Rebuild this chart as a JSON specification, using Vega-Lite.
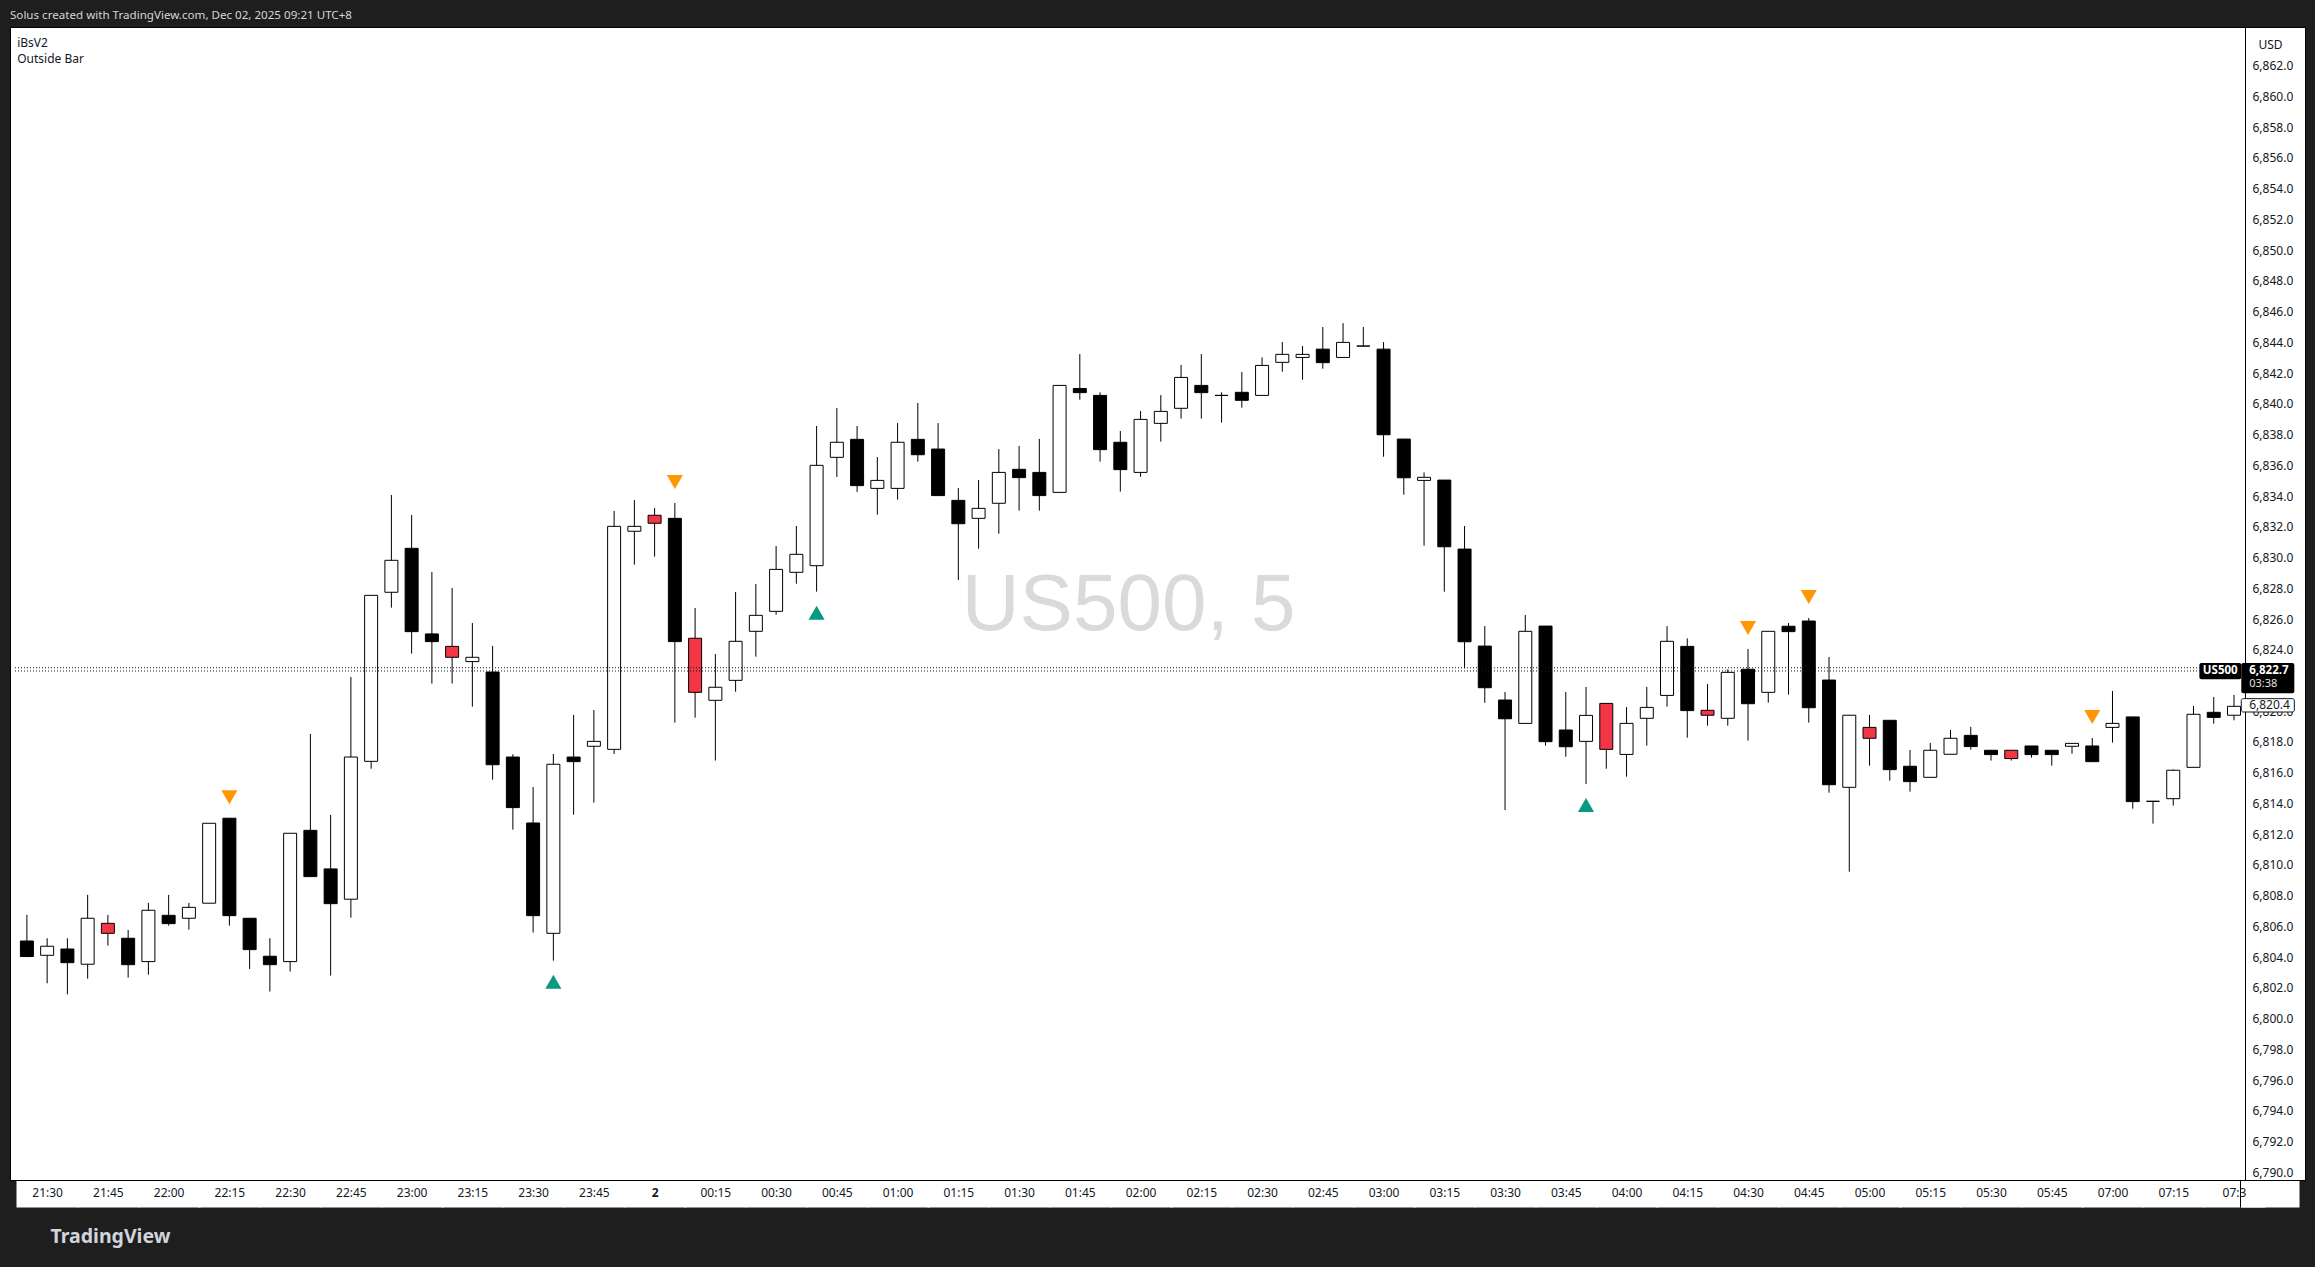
{
  "$schema": "https://vega.github.io/schema/vega-lite/v6.json",
  "width": 2295,
  "height": 1153,
  "autosize": {"type": "none"},
  "padding": {"left": 10, "top": 27, "right": 10, "bottom": 87},
  "background": "#1e1e1e",
  "config": {
    "view": {"fill": "#ffffff", "stroke": "#000000", "strokeWidth": 1},
    "font": "Noto Sans"
  },
  "title": {
    "text": "Solus created with TradingView.com, Dec 02, 2025 09:21 UTC+8",
    "subtitle": ["\u200b\u2002\u200aiBsV2", "\u200b\u2002\u200aOutside Bar"],
    "anchor": "start",
    "frame": "group",
    "orient": "top",
    "offset": -38,
    "font": "Noto Sans",
    "fontSize": 11.6,
    "fontWeight": "normal",
    "color": "#d6d6d6",
    "subtitleFont": "Noto Sans",
    "subtitleFontSize": 12,
    "subtitleColor": "#131722",
    "subtitleLineHeight": 16,
    "subtitlePadding": 16
  },
  "datasets": {
    "candles": [
      {"i":0,"t":"21:25","o":6805.05,"h":6806.75,"l":6804.0,"c":6804.04,"k":"down"},
      {"i":1,"t":"21:30","o":6804.12,"h":6805.23,"l":6802.3,"c":6804.71,"k":"up"},
      {"i":2,"t":"21:35","o":6804.53,"h":6805.23,"l":6801.58,"c":6803.64,"k":"down"},
      {"i":3,"t":"21:40","o":6803.54,"h":6808.05,"l":6802.6,"c":6806.53,"k":"up"},
      {"i":4,"t":"21:45","o":6806.2,"h":6806.75,"l":6804.75,"c":6805.55,"k":"red"},
      {"i":5,"t":"21:50","o":6805.23,"h":6805.77,"l":6802.67,"c":6803.51,"k":"down"},
      {"i":6,"t":"21:55","o":6803.71,"h":6807.53,"l":6802.86,"c":6807.05,"k":"up"},
      {"i":7,"t":"22:00","o":6806.72,"h":6808.05,"l":6806.05,"c":6806.18,"k":"down"},
      {"i":8,"t":"22:05","o":6806.53,"h":6807.53,"l":6805.79,"c":6807.24,"k":"up"},
      {"i":9,"t":"22:10","o":6807.51,"h":6812.71,"l":6807.51,"c":6812.71,"k":"up"},
      {"i":10,"t":"22:15","o":6813.04,"h":6813.04,"l":6806.05,"c":6806.7,"k":"down","sig":"dn"},
      {"i":11,"t":"22:20","o":6806.53,"h":6806.53,"l":6803.23,"c":6804.49,"k":"down"},
      {"i":12,"t":"22:25","o":6804.06,"h":6805.23,"l":6801.76,"c":6803.51,"k":"down"},
      {"i":13,"t":"22:30","o":6803.71,"h":6812.06,"l":6803.06,"c":6812.06,"k":"up"},
      {"i":14,"t":"22:35","o":6812.25,"h":6818.52,"l":6809.24,"c":6809.24,"k":"down"},
      {"i":15,"t":"22:40","o":6809.74,"h":6813.25,"l":6802.8,"c":6807.48,"k":"down"},
      {"i":16,"t":"22:45","o":6807.77,"h":6822.23,"l":6806.57,"c":6817.02,"k":"up"},
      {"i":17,"t":"22:50","o":6816.74,"h":6827.54,"l":6816.26,"c":6827.54,"k":"up"},
      {"i":18,"t":"22:55","o":6827.74,"h":6834.07,"l":6826.74,"c":6829.82,"k":"up"},
      {"i":19,"t":"23:00","o":6830.6,"h":6832.77,"l":6823.75,"c":6825.18,"k":"down"},
      {"i":20,"t":"23:05","o":6825.03,"h":6829.06,"l":6821.8,"c":6824.53,"k":"down"},
      {"i":21,"t":"23:10","o":6824.22,"h":6828.02,"l":6821.8,"c":6823.51,"k":"red"},
      {"i":22,"t":"23:15","o":6823.23,"h":6825.74,"l":6820.3,"c":6823.51,"k":"up"},
      {"i":23,"t":"23:20","o":6822.55,"h":6824.25,"l":6815.55,"c":6816.52,"k":"down"},
      {"i":24,"t":"23:25","o":6817.02,"h":6817.2,"l":6812.3,"c":6813.73,"k":"down"},
      {"i":25,"t":"23:30","o":6812.73,"h":6815.07,"l":6805.6,"c":6806.7,"k":"down"},
      {"i":26,"t":"23:35","o":6805.55,"h":6817.22,"l":6803.77,"c":6816.55,"k":"up","sig":"up"},
      {"i":27,"t":"23:40","o":6817.02,"h":6819.76,"l":6813.27,"c":6816.72,"k":"down"},
      {"i":28,"t":"23:45","o":6817.72,"h":6820.08,"l":6814.05,"c":6818.04,"k":"up"},
      {"i":29,"t":"23:50","o":6817.52,"h":6833.03,"l":6817.22,"c":6832.03,"k":"up"},
      {"i":30,"t":"23:55","o":6831.71,"h":6833.74,"l":6829.54,"c":6832.03,"k":"up"},
      {"i":31,"t":"00:00","o":6832.75,"h":6833.22,"l":6830.06,"c":6832.23,"k":"red"},
      {"i":32,"t":"00:05","o":6832.55,"h":6833.55,"l":6819.26,"c":6824.53,"k":"down","sig":"dn"},
      {"i":33,"t":"00:10","o":6824.75,"h":6826.72,"l":6819.58,"c":6821.23,"k":"red"},
      {"i":34,"t":"00:15","o":6820.71,"h":6823.72,"l":6816.79,"c":6821.56,"k":"up"},
      {"i":35,"t":"00:20","o":6822.01,"h":6827.76,"l":6821.27,"c":6824.55,"k":"up"},
      {"i":36,"t":"00:25","o":6825.2,"h":6828.28,"l":6823.55,"c":6826.24,"k":"up"},
      {"i":37,"t":"00:30","o":6826.5,"h":6830.75,"l":6826.28,"c":6829.23,"k":"up"},
      {"i":38,"t":"00:35","o":6829.04,"h":6832.05,"l":6828.3,"c":6830.21,"k":"up"},
      {"i":39,"t":"00:40","o":6829.47,"h":6838.56,"l":6827.78,"c":6836.0,"k":"up","sig":"up"},
      {"i":40,"t":"00:45","o":6836.52,"h":6839.73,"l":6835.24,"c":6837.5,"k":"up"},
      {"i":41,"t":"00:50","o":6837.69,"h":6838.56,"l":6834.27,"c":6834.68,"k":"down"},
      {"i":42,"t":"00:55","o":6834.5,"h":6836.54,"l":6832.79,"c":6835.02,"k":"up"},
      {"i":43,"t":"01:00","o":6834.5,"h":6838.75,"l":6833.77,"c":6837.5,"k":"up"},
      {"i":44,"t":"01:05","o":6837.69,"h":6840.06,"l":6836.24,"c":6836.69,"k":"down"},
      {"i":45,"t":"01:10","o":6837.06,"h":6838.75,"l":6834.03,"c":6834.03,"k":"down"},
      {"i":46,"t":"01:15","o":6833.72,"h":6834.53,"l":6828.54,"c":6832.2,"k":"down"},
      {"i":47,"t":"01:20","o":6832.55,"h":6835.05,"l":6830.58,"c":6833.2,"k":"up"},
      {"i":48,"t":"01:25","o":6833.53,"h":6837.06,"l":6831.55,"c":6835.54,"k":"up"},
      {"i":49,"t":"01:30","o":6835.74,"h":6837.26,"l":6833.05,"c":6835.2,"k":"down"},
      {"i":50,"t":"01:35","o":6835.54,"h":6837.72,"l":6833.05,"c":6834.03,"k":"down"},
      {"i":51,"t":"01:40","o":6834.24,"h":6841.2,"l":6834.24,"c":6841.2,"k":"up"},
      {"i":52,"t":"01:45","o":6841.0,"h":6843.24,"l":6840.27,"c":6840.73,"k":"down"},
      {"i":53,"t":"01:50","o":6840.55,"h":6840.75,"l":6836.24,"c":6837.02,"k":"down"},
      {"i":54,"t":"01:55","o":6837.5,"h":6838.23,"l":6834.29,"c":6835.72,"k":"down"},
      {"i":55,"t":"02:00","o":6835.54,"h":6839.53,"l":6835.26,"c":6838.99,"k":"up"},
      {"i":56,"t":"02:05","o":6838.73,"h":6840.57,"l":6837.54,"c":6839.51,"k":"up"},
      {"i":57,"t":"02:10","o":6839.71,"h":6842.53,"l":6839.04,"c":6841.72,"k":"up"},
      {"i":58,"t":"02:15","o":6841.2,"h":6843.24,"l":6839.04,"c":6840.73,"k":"down"},
      {"i":59,"t":"02:20","o":6840.55,"h":6840.75,"l":6838.78,"c":6840.55,"k":"down"},
      {"i":60,"t":"02:25","o":6840.75,"h":6842.07,"l":6839.75,"c":6840.23,"k":"down"},
      {"i":61,"t":"02:30","o":6840.55,"h":6843.02,"l":6840.55,"c":6842.5,"k":"up"},
      {"i":62,"t":"02:35","o":6842.7,"h":6844.02,"l":6842.09,"c":6843.22,"k":"up"},
      {"i":63,"t":"02:40","o":6843.02,"h":6843.76,"l":6841.57,"c":6843.22,"k":"up"},
      {"i":64,"t":"02:45","o":6843.56,"h":6845.0,"l":6842.29,"c":6842.68,"k":"down"},
      {"i":65,"t":"02:50","o":6843.02,"h":6845.25,"l":6843.02,"c":6844.0,"k":"up"},
      {"i":66,"t":"02:55","o":6843.76,"h":6845.0,"l":6843.76,"c":6843.76,"k":"down"},
      {"i":67,"t":"03:00","o":6843.56,"h":6844.02,"l":6836.56,"c":6837.99,"k":"down"},
      {"i":68,"t":"03:05","o":6837.71,"h":6837.71,"l":6834.09,"c":6835.19,"k":"down"},
      {"i":69,"t":"03:10","o":6835.02,"h":6835.54,"l":6830.77,"c":6835.22,"k":"up"},
      {"i":70,"t":"03:15","o":6835.04,"h":6835.04,"l":6827.78,"c":6830.7,"k":"down"},
      {"i":71,"t":"03:20","o":6830.55,"h":6832.05,"l":6822.79,"c":6824.52,"k":"down"},
      {"i":72,"t":"03:25","o":6824.24,"h":6825.54,"l":6820.55,"c":6821.53,"k":"down"},
      {"i":73,"t":"03:30","o":6820.73,"h":6821.25,"l":6813.57,"c":6819.51,"k":"down"},
      {"i":74,"t":"03:35","o":6819.21,"h":6826.26,"l":6819.21,"c":6825.2,"k":"up"},
      {"i":75,"t":"03:40","o":6825.54,"h":6825.54,"l":6817.76,"c":6818.02,"k":"down"},
      {"i":76,"t":"03:45","o":6818.78,"h":6821.25,"l":6817.04,"c":6817.69,"k":"down"},
      {"i":77,"t":"03:50","o":6818.04,"h":6821.58,"l":6815.26,"c":6819.73,"k":"up","sig":"up"},
      {"i":78,"t":"03:55","o":6820.51,"h":6820.51,"l":6816.26,"c":6817.52,"k":"red"},
      {"i":79,"t":"04:00","o":6817.19,"h":6820.27,"l":6815.74,"c":6819.21,"k":"up"},
      {"i":80,"t":"04:05","o":6819.54,"h":6821.58,"l":6817.76,"c":6820.25,"k":"up"},
      {"i":81,"t":"04:10","o":6821.03,"h":6825.54,"l":6820.3,"c":6824.55,"k":"up"},
      {"i":82,"t":"04:15","o":6824.22,"h":6824.74,"l":6818.28,"c":6820.04,"k":"down"},
      {"i":83,"t":"04:20","o":6820.06,"h":6821.77,"l":6819.06,"c":6819.74,"k":"red"},
      {"i":84,"t":"04:25","o":6819.54,"h":6822.73,"l":6819.06,"c":6822.53,"k":"up"},
      {"i":85,"t":"04:30","o":6822.73,"h":6824.05,"l":6818.09,"c":6820.49,"k":"down","sig":"dn"},
      {"i":86,"t":"04:35","o":6821.23,"h":6825.2,"l":6820.56,"c":6825.2,"k":"up"},
      {"i":87,"t":"04:40","o":6825.53,"h":6825.74,"l":6821.08,"c":6825.18,"k":"down"},
      {"i":88,"t":"04:45","o":6825.87,"h":6826.07,"l":6819.26,"c":6820.23,"k":"down","sig":"dn"},
      {"i":89,"t":"04:50","o":6822.03,"h":6823.53,"l":6814.7,"c":6815.22,"k":"down"},
      {"i":90,"t":"04:55","o":6815.05,"h":6819.74,"l":6809.56,"c":6819.74,"k":"up"},
      {"i":91,"t":"05:00","o":6818.95,"h":6819.76,"l":6816.46,"c":6818.24,"k":"red"},
      {"i":92,"t":"05:05","o":6819.41,"h":6819.41,"l":6815.48,"c":6816.2,"k":"down"},
      {"i":93,"t":"05:10","o":6816.42,"h":6817.48,"l":6814.77,"c":6815.42,"k":"down"},
      {"i":94,"t":"05:15","o":6815.7,"h":6817.94,"l":6815.7,"c":6817.46,"k":"up"},
      {"i":95,"t":"05:20","o":6817.2,"h":6818.78,"l":6817.2,"c":6818.24,"k":"up"},
      {"i":96,"t":"05:25","o":6818.43,"h":6818.98,"l":6817.5,"c":6817.7,"k":"down"},
      {"i":97,"t":"05:30","o":6817.46,"h":6817.46,"l":6816.79,"c":6817.18,"k":"down"},
      {"i":98,"t":"05:35","o":6817.46,"h":6817.46,"l":6816.79,"c":6816.92,"k":"red"},
      {"i":99,"t":"05:40","o":6817.74,"h":6817.74,"l":6816.98,"c":6817.18,"k":"down"},
      {"i":100,"t":"05:45","o":6817.46,"h":6817.46,"l":6816.46,"c":6817.18,"k":"down"},
      {"i":101,"t":"05:50","o":6817.72,"h":6817.91,"l":6817.24,"c":6817.91,"k":"up"},
      {"i":102,"t":"05:55","o":6817.74,"h":6818.26,"l":6816.72,"c":6816.72,"k":"down","sig":"dn"},
      {"i":103,"t":"07:00","o":6818.95,"h":6821.32,"l":6817.96,"c":6819.21,"k":"up"},
      {"i":104,"t":"07:05","o":6819.63,"h":6819.63,"l":6813.66,"c":6814.12,"k":"down"},
      {"i":105,"t":"07:10","o":6814.14,"h":6814.14,"l":6812.69,"c":6814.14,"k":"down"},
      {"i":106,"t":"07:15","o":6814.31,"h":6816.22,"l":6813.86,"c":6816.16,"k":"up"},
      {"i":107,"t":"07:20","o":6816.35,"h":6820.34,"l":6816.35,"c":6819.8,"k":"up"},
      {"i":108,"t":"07:25","o":6819.93,"h":6820.93,"l":6819.19,"c":6819.6,"k":"down"},
      {"i":109,"t":"07:30","o":6819.74,"h":6821.06,"l":6819.41,"c":6820.32,"k":"up"}
    ]
  },
  "layer": [
    {
      "data": {"values": [{"label": "US500, 5"}]},
      "mark": {"type": "text", "font": "Liberation Sans", "fontSize": 80, "color": "#d9dadc", "align": "center", "baseline": "alphabetic"},
      "encoding": {
        "x": {"datum": 54.41, "type": "quantitative"},
        "y": {"datum": 6825.3, "type": "quantitative"},
        "text": {"field": "label"}
      }
    },
    {
      "data": {"name": "candles"},
      "mark": {"type": "rule", "color": "#000000", "strokeWidth": 1},
      "encoding": {
        "x": {
          "field": "i", "type": "quantitative",
          "scale": {"domain": [-0.588, 112.26], "nice": false, "zero": false},
          "axis": {
            "values": [1,4,7,10,13,16,19,22,25,28,31,34,37,40,43,46,49,52,55,58,61,64,67,70,73,76,79,82,85,88,91,94,97,100,103,106,109,109.31,110.76],
            "tickCount": 200,
            "labelExpr": "datum.value > 109.2 ? '' : ['21:30','21:45','22:00','22:15','22:30','22:45','23:00','23:15','23:30','23:45','2','00:15','00:30','00:45','01:00','01:15','01:30','01:45','02:00','02:15','02:30','02:45','03:00','03:15','03:30','03:45','04:00','04:15','04:30','04:45','05:00','05:15','05:30','05:45','07:00','07:15','07:3'][round((datum.value-1)/3)]",
            "ticks": true,
            "tickSize": 27,
            "tickCap": "butt",
            "tickColor": {"condition": {"test": "datum.value > 109.2 && datum.value < 109.4", "value": "#000000"}, "value": "#ffffff"},
            "tickWidth": {"condition": [{"test": "datum.value > 109.2 && datum.value < 109.4", "value": 1}, {"test": "datum.value > 110", "value": 58}], "value": 62},
            "grid": false,
            "domain": true,
            "domainColor": "#000000",
            "domainWidth": 1,
            "offset": 0,
            "labelPadding": -14.8,
            "labelBaseline": "middle",
            "labelFont": "Noto Sans",
            "labelFontSize": 12,
            "labelColor": "#131722",
            "labelFlush": false,
            "labelOverlap": false,
            "labelFontWeight": {"condition": {"test": "datum.value == 31", "value": "bold"}, "value": "normal"},
            "title": "TradingView",
            "titleX": 40,
            "titleY": 56.5,
            "titleAlign": "left",
            "titleAnchor": "start",
            "titleBaseline": "middle",
            "titleAngle": 0,
            "titleFont": "Noto Sans",
            "titleFontSize": 19.5,
            "titleFontWeight": "bold",
            "titleColor": "#d1d4dc",
            "zindex": 0
          }
        },
        "y": {
          "field": "l", "type": "quantitative",
          "scale": {"domain": [6789.5, 6864.52], "nice": false, "zero": false},
          "axis": {
            "orient": "right",
            "offset": -60,
            "values": [6790,6792,6794,6796,6798,6800,6802,6804,6806,6808,6810,6812,6814,6816,6818,6820,6822,6824,6826,6828,6830,6832,6834,6836,6838,6840,6842,6844,6846,6848,6850,6852,6854,6856,6858,6860,6862],
            "tickCount": 200,
            "format": ",.1f",
            "ticks": false,
            "grid": false,
            "domain": true,
            "domainColor": "#000000",
            "domainWidth": 1,
            "labelPadding": 7,
            "labelAlign": "left",
            "labelFont": "Noto Sans",
            "labelFontSize": 12,
            "labelColor": "#131722",
            "labelFlush": false,
            "labelOverlap": false,
            "title": "USD",
            "titleAngle": 0,
            "titleX": 13,
            "titleY": 17,
            "titleAlign": "left",
            "titleAnchor": "start",
            "titleBaseline": "middle",
            "titleFont": "Noto Sans",
            "titleFontSize": 12,
            "titleFontWeight": "normal",
            "titleColor": "#131722",
            "zindex": 0
          }
        },
        "y2": {"field": "h"}
      }
    },
    {
      "data": {"name": "candles"},
      "mark": {"type": "bar", "orient": "vertical", "width": 13, "stroke": "#000000", "strokeWidth": 1},
      "encoding": {
        "x": {"field": "i", "type": "quantitative"},
        "y": {"field": "o", "type": "quantitative"},
        "y2": {"field": "c"},
        "fill": {"field": "k", "type": "nominal", "scale": {"domain": ["up", "down", "red"], "range": ["#ffffff", "#000000", "#f23645"]}, "legend": null}
      }
    },
    {
      "data": {"values": [{"p": 6822.83}, {"p": 6822.62}]},
      "mark": {"type": "rule", "color": "#131722", "strokeWidth": 1, "strokeDash": [1, 2]},
      "encoding": {
        "x": {"datum": -0.588, "type": "quantitative"},
        "x2": {"datum": 107.29},
        "y": {"field": "p", "type": "quantitative"}
      }
    },
    {
      "data": {"name": "candles"},
      "transform": [{"filter": "datum.sig == 'dn'"}],
      "mark": {"type": "point", "shape": "triangle-down", "filled": true, "size": 260, "color": "#ff9800", "opacity": 1, "yOffset": -21},
      "encoding": {
        "x": {"field": "i", "type": "quantitative"},
        "y": {"field": "h", "type": "quantitative"}
      }
    },
    {
      "data": {"name": "candles"},
      "transform": [{"filter": "datum.sig == 'up'"}],
      "mark": {"type": "point", "shape": "triangle-up", "filled": true, "size": 260, "color": "#089981", "opacity": 1, "yOffset": 21},
      "encoding": {
        "x": {"field": "i", "type": "quantitative"},
        "y": {"field": "l", "type": "quantitative"}
      }
    },
    {
      "data": {"values": [{"sym": "US500"}]},
      "mark": {"type": "rect", "color": "#000000", "cornerRadius": 2},
      "encoding": {
        "x": {"datum": 107.29, "type": "quantitative"},
        "x2": {"datum": 109.36},
        "y": {"datum": 6823.14, "type": "quantitative"},
        "y2": {"datum": 6822.08}
      }
    },
    {
      "data": {"values": [{"last": 6822.7}]},
      "mark": {"type": "rect", "color": "#000000", "cornerRadius": 2},
      "encoding": {
        "x": {"datum": 109.36, "type": "quantitative"},
        "x2": {"datum": 111.98},
        "y": {"datum": 6823.14, "type": "quantitative"},
        "y2": {"datum": 6821.17}
      }
    },
    {
      "data": {"values": [{"ind": 6820.4}]},
      "mark": {"type": "rect", "fill": "#ffffff", "stroke": "#131722", "strokeWidth": 1, "cornerRadius": 2},
      "encoding": {
        "x": {"datum": 109.36, "type": "quantitative"},
        "x2": {"datum": 111.98},
        "y": {"datum": 6820.82, "type": "quantitative"},
        "y2": {"datum": 6819.95}
      }
    },
    {
      "data": {"values": [{"txt": "US500"}]},
      "mark": {"type": "text", "font": "Noto Sans", "fontSize": 11.5, "fontWeight": "bold", "color": "#ffffff", "align": "center", "baseline": "middle"},
      "encoding": {
        "x": {"datum": 108.32, "type": "quantitative"},
        "y": {"datum": 6822.6, "type": "quantitative"},
        "text": {"field": "txt"}
      }
    },
    {
      "data": {"values": [{"txt": "6,822.7"}]},
      "mark": {"type": "text", "font": "Noto Sans", "fontSize": 11.5, "fontWeight": "bold", "color": "#ffffff", "align": "left", "baseline": "middle"},
      "encoding": {
        "x": {"datum": 109.75, "type": "quantitative"},
        "y": {"datum": 6822.6, "type": "quantitative"},
        "text": {"field": "txt"}
      }
    },
    {
      "data": {"values": [{"txt": "03:38"}]},
      "mark": {"type": "text", "font": "Noto Sans", "fontSize": 11, "color": "#e0e0e0", "align": "left", "baseline": "middle"},
      "encoding": {
        "x": {"datum": 109.75, "type": "quantitative"},
        "y": {"datum": 6821.8, "type": "quantitative"},
        "text": {"field": "txt"}
      }
    },
    {
      "data": {"values": [{"txt": "6,820.4"}]},
      "mark": {"type": "text", "font": "Noto Sans", "fontSize": 12, "color": "#131722", "align": "left", "baseline": "middle"},
      "encoding": {
        "x": {"datum": 109.75, "type": "quantitative"},
        "y": {"datum": 6820.39, "type": "quantitative"},
        "text": {"field": "txt"}
      }
    }
  ]
}
